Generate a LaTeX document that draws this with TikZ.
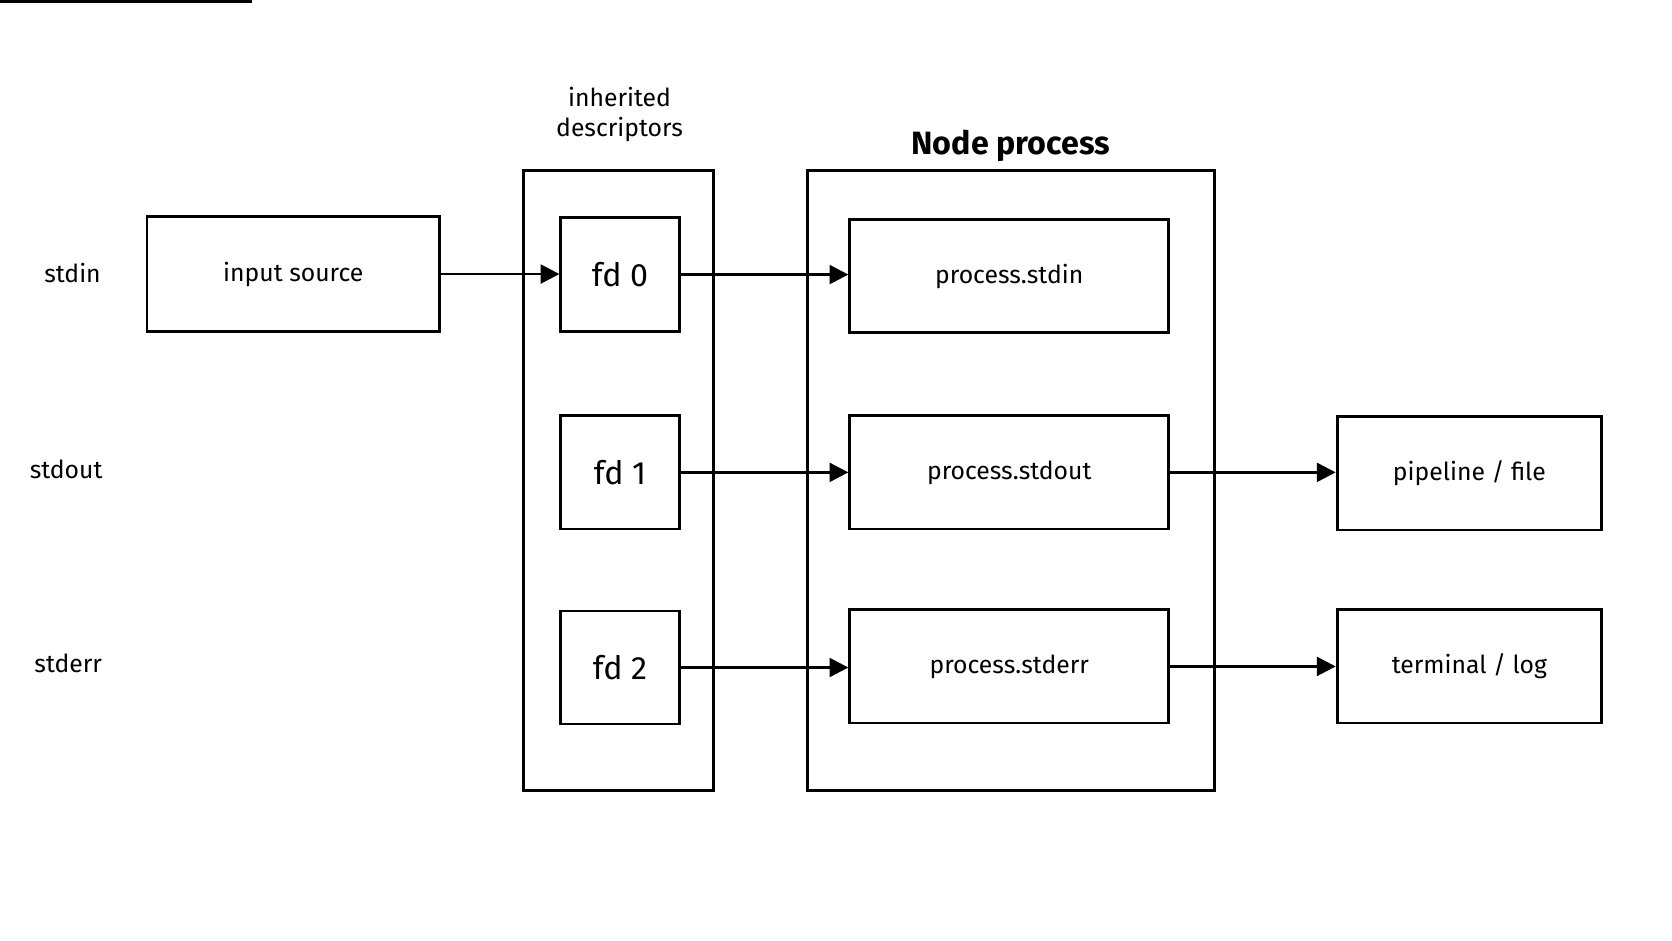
\documentclass[tikz,border=0pt]{standalone}
\usepackage{fontspec}
\setmainfont{Fira Sans}
\usetikzlibrary{arrows.meta}
\begin{document}
\begin{tikzpicture}[x=0.01cm,y=-0.01cm,
  box/.style={draw,line width=0.75pt,inner sep=0pt,font=\fontsize{6.6}{8}\selectfont\medseries},
  fd/.style={box,font=\fontsize{8.6}{10}\selectfont\medseries},
  cont/.style={draw,line width=0.75pt,inner sep=0pt},
  lbl/.style={font=\fontsize{6.6}{8}\selectfont\medseries},
  arr/.style={line width=0.75pt,-{Triangle[length=5pt,width=5pt]}}]
\providecommand\medseries{\fontseries{m}\selectfont}
\useasboundingbox (0,0) rectangle (1568,882);
\node[cont,minimum width=178\pgflinewidth] at (0,0) {};
\draw[line width=0.75pt] (491,160) rectangle (669,741);
\draw[line width=0.75pt] (757,160) rectangle (1139,741);
\node[lbl,align=center] (desc) at (581,107) {inherited\\descriptors};
\node[font=\fontsize{8.6}{10}\selectfont\bfseries] (np) at (948,137) {Node process};
\node[lbl] (lin) at (68,256) {stdin};
\node[lbl] (lout) at (62,440) {stdout};
\node[lbl] (lerr) at (64,622) {stderr};
\newcommand\bx[6]{\node[#6,minimum width=#4*0.01cm-0.75pt,minimum height=#5*0.01cm-0.75pt] (#1) at (#2,#3) {};}
\node[box,minimum width=2.74cm,minimum height=1.08cm] (in) at (275,257) {input source};
\node[fd,minimum width=1.11cm,minimum height=1.07cm] (f0) at (581.5,257.5) {fd 0};
\node[fd,minimum width=1.11cm,minimum height=1.06cm] (f1) at (581.5,443) {fd 1};
\node[fd,minimum width=1.11cm,minimum height=1.06cm] (f2) at (581.5,626) {fd 2};
\node[box,minimum width=2.99cm,minimum height=1.06cm] (p0) at (946.5,259) {process.stdin};
\node[box,minimum width=2.99cm,minimum height=1.06cm] (p1) at (946.5,443) {process.stdout};
\node[box,minimum width=2.99cm,minimum height=1.06cm] (p2) at (946.5,625) {process.stderr};
\node[box,minimum width=2.48cm,minimum height=1.06cm] (o1) at (1378,444) {pipeline / file};
\node[box,minimum width=2.48cm,minimum height=1.06cm] (o2) at (1378,625) {terminal / log};
\draw[arr] (in.east) -- (in.east -| f0.west);
\draw[arr] (f0.east) -- (f0.east -| p0.west);
\draw[arr] (f1.east) -- (f1.east -| p1.west);
\draw[arr] (f2.east) -- (f2.east -| p2.west);
\draw[arr] (p1.east) -- (p1.east -| o1.west);
\draw[arr] (p2.east) -- (p2.east -| o2.west);
\end{tikzpicture}
\end{document}
